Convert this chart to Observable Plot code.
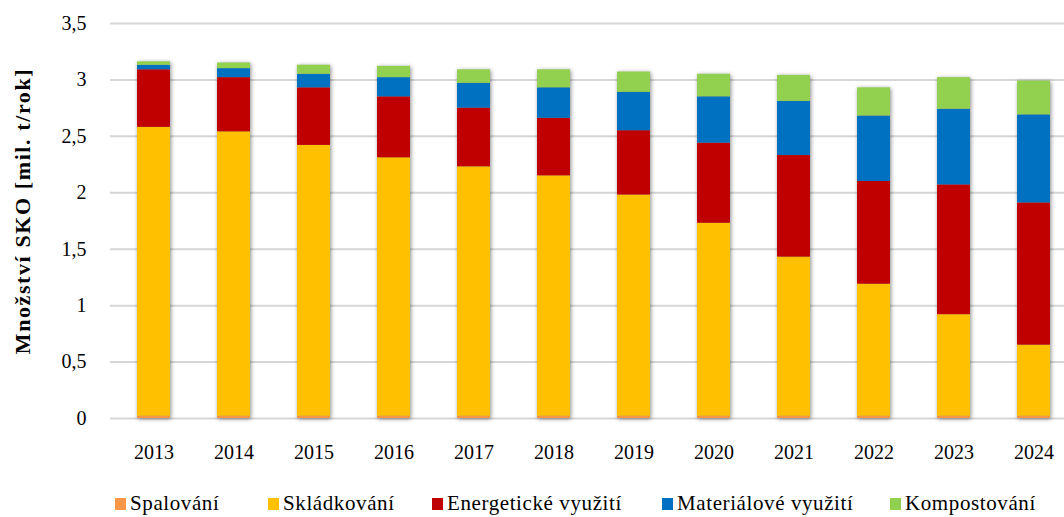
<!DOCTYPE html>
<html><head><meta charset="utf-8">
<script src="https://cdn.jsdelivr.net/npm/d3@7"></script>
<script src="https://cdn.jsdelivr.net/npm/@observablehq/plot@0.6"></script>
<style>
body{margin:0;background:#fff;font-family:"Liberation Serif",serif;}
#chart svg{display:block;overflow:hidden;}
#legend{position:relative;height:39px;font-family:"Liberation Serif",serif;font-size:21px;letter-spacing:0.6px;color:#000;}
#legend .item{position:absolute;top:13px;display:flex;align-items:center;white-space:nowrap;}
#legend .sw{width:11px;height:12px;margin-right:4px;display:inline-block;}
</style></head><body>
<div id="chart"></div>
<div id="legend"></div>
<script>
const years = ["2013","2014","2015","2016","2017","2018","2019","2020","2021","2022","2023","2024"];
const seriesNames = ["Spalování","Skládkování","Energetické využití","Materiálové využití","Kompostování"];
const seriesColors = ["#F79646","#FFC000","#C00000","#0070C0","#92D050"];
const spalovani    = [0.02,0.02,0.02,0.02,0.02,0.02,0.02,0.02,0.02,0.02,0.02,0.02];
const skladkovani  = [2.56,2.52,2.40,2.29,2.21,2.13,1.96,1.71,1.41,1.17,0.90,0.63];
const energeticke  = [0.51,0.48,0.51,0.54,0.52,0.51,0.57,0.71,0.90,0.91,1.15,1.26];
const materialove  = [0.04,0.08,0.12,0.17,0.22,0.27,0.34,0.41,0.48,0.58,0.67,0.78];
const kompostovani = [0.03,0.05,0.08,0.10,0.12,0.16,0.18,0.20,0.23,0.25,0.28,0.30];
const yTicks = [0,0.5,1,1.5,2,2.5,3,3.5];
const yLabel = "Množství SKO [mil. t/rok]";

const seriesValues = [spalovani, skladkovani, energeticke, materialove, kompostovani];
const data = [];
seriesNames.forEach((s, si) => years.forEach((y, yi) => data.push({year: y, series: s, value: seriesValues[si][yi]})));

const chart = Plot.plot({
  width: 1064,
  height: 478,
  marginLeft: 110,
  marginRight: 0,
  marginTop: 23,
  marginBottom: 60,
  style: {fontFamily: "'Liberation Serif', serif", fontSize: "20px", color: "#000", background: "#fff"},
  x: {domain: years, range: [110, 1077], paddingInner: 0.59, paddingOuter: 0.295, label: null},
  y: {domain: [0, 3.5], label: null},
  color: {domain: seriesNames, range: seriesColors},
  marks: [
    Plot.gridY(yTicks, {stroke: "#d6d6d6", strokeOpacity: 1, strokeWidth: 2}),
    Plot.barY(data, {x: "year", y: "value", fill: "series", order: seriesNames}),
    Plot.axisX({tickSize: 0, tickPadding: 26, fontSize: 20}),
    Plot.axisY({ticks: yTicks, tickSize: 0, tickPadding: 24, fontSize: 20, tickFormat: d => String(d).replace(".", ",")}),
    Plot.text([yLabel], {frameAnchor: "left", textAnchor: "middle", dx: -88, dy: -10, rotate: -90, text: d => d, fontWeight: "bold", fontSize: 22, style: {letterSpacing: "1.6px"}})
  ]
});
document.getElementById("chart").appendChild(chart);

// letter spacing for the rotated axis title
d3.select(chart).selectAll("g[aria-label='text'] text").style("letter-spacing", "1.6px");

// soft shadow behind the bars, like the original
const svg = d3.select(chart);
const bars = svg.selectAll("g[aria-label='bar']").nodes();
if (bars.length) {
  const wrap = document.createElementNS("http://www.w3.org/2000/svg", "g");
  wrap.setAttribute("style", "filter: drop-shadow(1.5px 1px 2px rgba(0,0,0,0.45))");
  bars[0].parentNode.insertBefore(wrap, bars[0]);
  bars.forEach(b => wrap.appendChild(b));
}

// legend
const legendX = [115, 268, 432, 662, 890];
const legend = d3.select("#legend");
seriesNames.forEach((s, i) => {
  const it = legend.append("div").attr("class", "item").style("left", legendX[i] + "px");
  it.append("span").attr("class", "sw").style("background", seriesColors[i]);
  it.append("span").text(s);
});
</script>
</body></html>
